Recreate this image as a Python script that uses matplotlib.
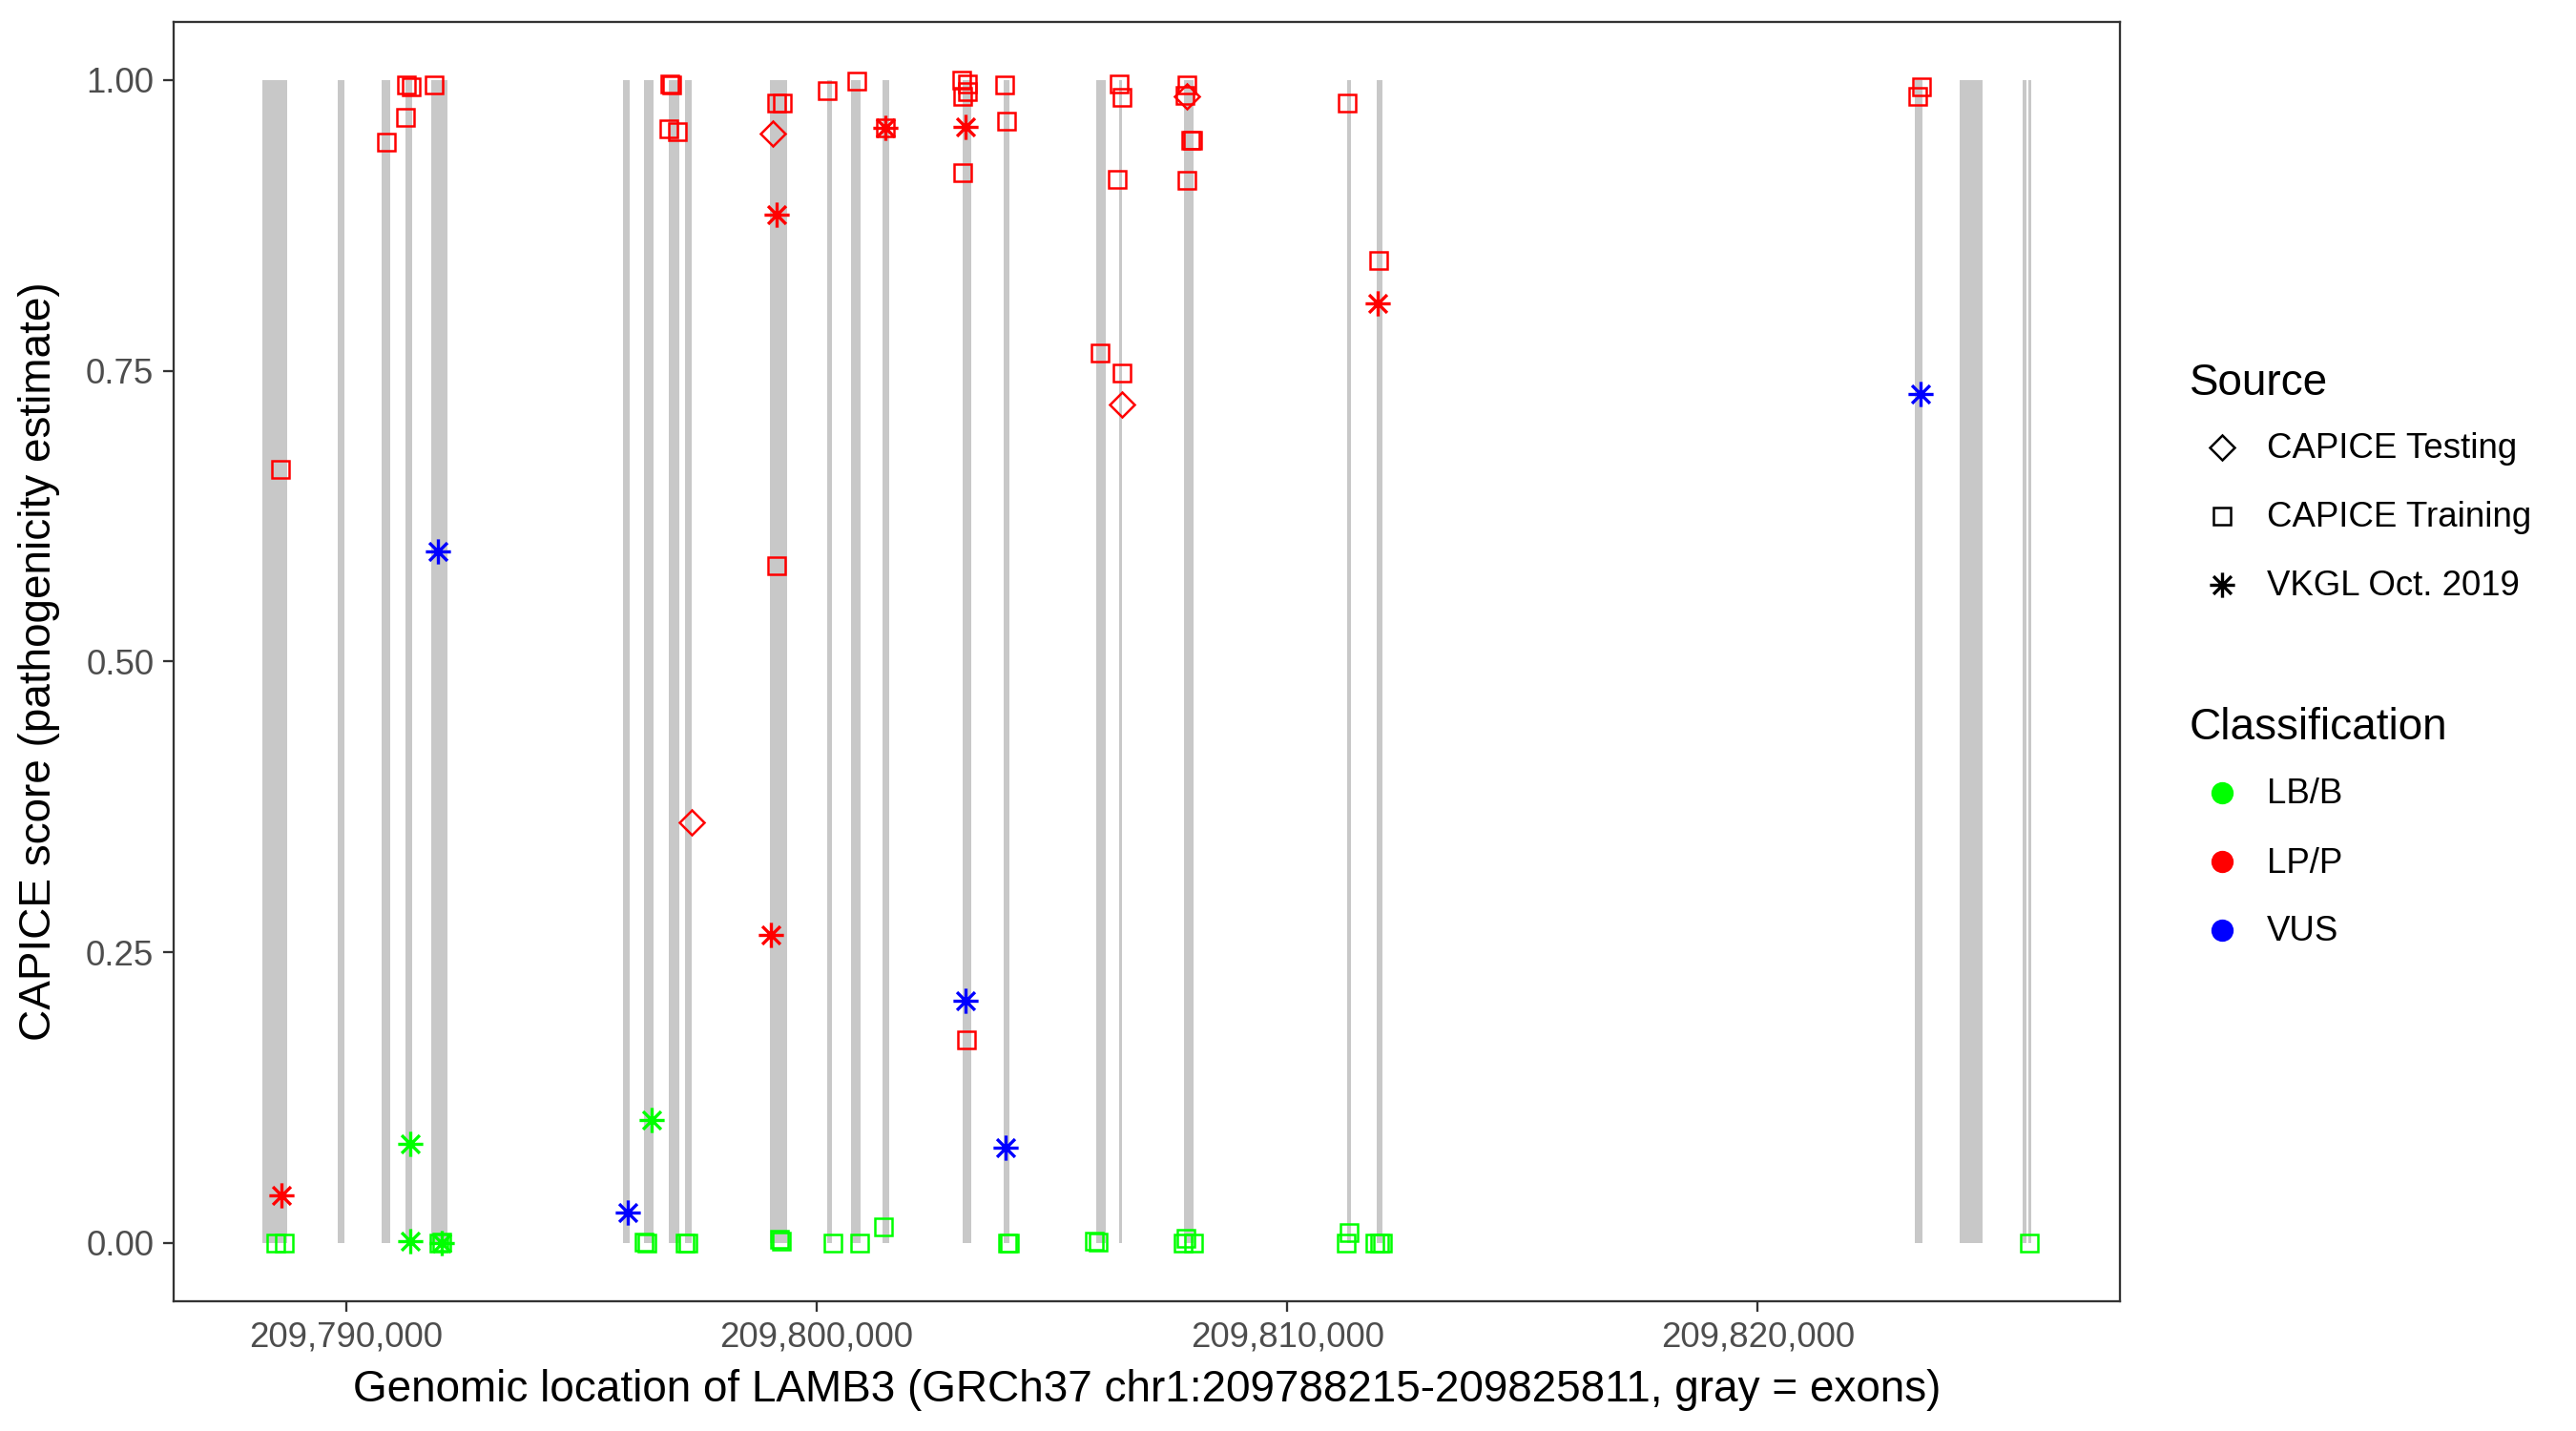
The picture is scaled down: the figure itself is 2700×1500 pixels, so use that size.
import matplotlib
matplotlib.use("Agg")
import matplotlib.pyplot as plt
from matplotlib.lines import Line2D
from matplotlib.path import Path
from matplotlib.ticker import FuncFormatter

plt.rcParams['font.family'] = ['Liberation Sans', 'DejaVu Sans']

# exons of LAMB3 (GRCh37)
exon_start = [209788222, 209789824, 209790756, 209791263, 209791810, 209795885,
              209796331, 209796858, 209797203, 209799007, 209800223, 209800730,
              209801399, 209803102, 209803973, 209805940, 209806426, 209807805,
              209811271, 209811900, 209823333, 209824286, 209825624, 209825745]
exon_end = [209788749, 209789966, 209790939, 209791405, 209792155, 209796027,
            209796534, 209797081, 209797345, 209799372, 209800325, 209800933,
            209801541, 209803284, 209804095, 209806143, 209806487, 209808008,
            209811352, 209812022, 209823495, 209824773, 209825705, 209825811]

# CAPICE Training (squares)
train_pos = [209791277, 209791385, 209791865, 209791270, 209790864, 209788613,
             209796878, 209796912, 209796858, 209797047, 209799155, 209799277,
             209799149, 209800230, 209800852, 209801466, 209803088, 209803209,
             209803209, 209803102, 209803102, 209803994, 209804041, 209806015,
             209806426, 209806493, 209806380, 209806493, 209807872, 209807825,
             209807940, 209807987, 209807866, 209811266, 209811947, 209823469,
             209823401, 209803189,
             209788508, 209788690, 209791979, 209792027, 209796331, 209796398,
             209797209, 209797263, 209799210, 209799257, 209800351, 209800913,
             209801419, 209804055, 209804101, 209805899, 209805980, 209807839,
             209807791, 209808008, 209811306, 209811252, 209811859, 209811960,
             209812027, 209825760]
train_score = [0.996, 0.994, 0.996, 0.968, 0.947, 0.665,
               0.997, 0.996, 0.958, 0.956, 0.980, 0.980,
               0.582, 0.991, 0.999, 0.959, 1.000, 0.997,
               0.990, 0.986, 0.920, 0.996, 0.965, 0.765,
               0.997, 0.985, 0.915, 0.748, 0.996, 0.987,
               0.948, 0.948, 0.914, 0.980, 0.845, 0.994,
               0.986, 0.175,
               0.000, 0.000, 0.000, 0.001, 0.001, 0.000,
               0.000, 0.000, 0.003, 0.002, 0.000, 0.000,
               0.014, 0.000, 0.000, 0.002, 0.001, 0.004,
               0.000, 0.000, 0.009, 0.000, 0.000, 0.000,
               0.000, 0.000]
train_class = ['LP/P'] * 38 + ['LB/B'] * 26

# CAPICE Testing (diamonds)
test_pos = [209799074, 209797351, 209806493, 209807860]
test_score = [0.954, 0.362, 0.721, 0.986]
test_class = ['LP/P', 'LP/P', 'LP/P', 'LP/P']

# VKGL Oct. 2019 (asterisks)
vkgl_pos = [209788634, 209799149, 209799027, 209801466, 209803156, 209811914,
            209791958, 209795980, 209803156, 209804015, 209823449,
            209791358, 209791371, 209792027, 209796487]
vkgl_score = [0.041, 0.884, 0.265, 0.959, 0.960, 0.808,
              0.595, 0.026, 0.208, 0.082, 0.730,
              0.085, 0.002, 0.000, 0.106]
vkgl_class = ['LP/P'] * 6 + ['VUS'] * 5 + ['LB/B'] * 4

sources = ['CAPICE Testing', 'CAPICE Training', 'VKGL Oct. 2019']
classes = ['LB/B', 'LP/P', 'VUS']
class_colors = {'LB/B': '#00FF00', 'LP/P': '#FF0000', 'VUS': '#0000FF'}

# R pch 8 style asterisk: "+" with a smaller "x" on top
ast = Path([(-1, 0), (1, 0), (0, -1), (0, 1),
            (-0.72, -0.72), (0.72, 0.72), (-0.72, 0.72), (0.72, -0.72)],
           [Path.MOVETO, Path.LINETO] * 4)

# marker, size, edge width
source_marker = {'CAPICE Testing': ('D', 4.3, 0.6), 'CAPICE Training': ('s', 4.3, 0.6),
                 'VKGL Oct. 2019': (ast, 6.3, 0.8)}

fig = plt.figure(figsize=(9, 5), dpi=300)
ax = fig.add_axes([0.0674, 0.0907, 0.8229 - 0.0674, 0.9847 - 0.0907])

# exons
ax.bar(exon_start, [1] * len(exon_start),
       width=[e - s for s, e in zip(exon_start, exon_end)],
       align='edge', bottom=0, color='#C8C8C8', linewidth=0, zorder=1)

# points
groups = [('CAPICE Training', train_pos, train_score, train_class),
          ('CAPICE Testing', test_pos, test_score, test_class),
          ('VKGL Oct. 2019', vkgl_pos, vkgl_score, vkgl_class)]
for src, xs, ys, cs in groups:
    mk, ms, mw = source_marker[src]
    for cl in classes:
        px = [x for x, c in zip(xs, cs) if c == cl]
        py = [y for y, c in zip(ys, cs) if c == cl]
        if px:
            ax.plot(px, py, linestyle='none', marker=mk, markersize=ms,
                    markerfacecolor='none', markeredgecolor=class_colors[cl],
                    markeredgewidth=mw, zorder=3)

gene_lo, gene_hi = 209788215, 209825811
pad = (gene_hi - gene_lo) * 0.05
ax.set_xlim(gene_lo - pad, gene_hi + pad)
ax.set_ylim(-0.05, 1.05)
ax.set_xticks([209790000, 209800000, 209810000, 209820000])
ax.xaxis.set_major_formatter(FuncFormatter(lambda v, p: f'{int(v):,}'))
ax.set_yticks([0, 0.25, 0.5, 0.75, 1.0])
ax.yaxis.set_major_formatter(FuncFormatter(lambda v, p: f'{v:.2f}'))

for sp in ax.spines.values():
    sp.set_color('#333333')
    sp.set_linewidth(0.55)
ax.tick_params(length=2.75, width=0.55, color='#333333', labelcolor='#4D4D4D',
               labelsize=8.8, pad=2.2)
ax.set_xlabel('Genomic location of LAMB3 (GRCh37 chr1:209788215-209825811, gray = exons)',
              fontsize=11, labelpad=3.6)
ax.set_ylabel('CAPICE score (pathogenicity estimate)', fontsize=11, labelpad=6.5)

# legends, placed by hand (pixel positions of the 2700x1500 image)
W, H = 2700.0, 1500.0
def fx(x):
    return x / W
def fy(y):
    return 1 - y / H

fig.text(fx(2295), fy(414), 'Source', fontsize=11, va='baseline')
for i, src in enumerate(sources):
    yy = 469 + i * 72
    mk, ms, mw = source_marker[src]
    fig.add_artist(Line2D([fx(2329)], [fy(yy)], marker=mk, markersize=ms,
                          markerfacecolor='none', markeredgecolor='black',
                          markeredgewidth=mw, linestyle='none',
                          transform=fig.transFigure))
    fig.text(fx(2376), fy(yy + 2), src, fontsize=8.8, va='center')

fig.text(fx(2295), fy(775), 'Classification', fontsize=11, va='baseline')
for i, cl in enumerate(classes):
    yy = 831 + i * 72
    fig.add_artist(Line2D([fx(2329)], [fy(yy)], marker='o', markersize=4.6,
                          markerfacecolor=class_colors[cl], markeredgecolor=class_colors[cl],
                          linestyle='none', transform=fig.transFigure))
    fig.text(fx(2376), fy(yy + 2), cl, fontsize=8.8, va='center')

plt.savefig('out.png', dpi=300)
